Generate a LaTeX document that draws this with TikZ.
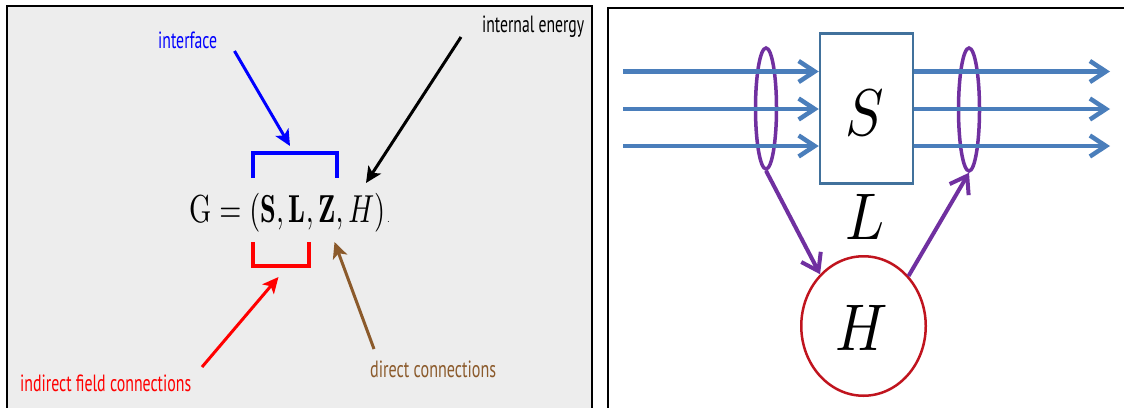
\documentclass[tikz,border=0pt]{standalone}
\usepackage{fontspec}
\usepackage{graphicx}
\usetikzlibrary{arrows.meta,shapes.geometric}
\newfontfamily\labfont{PT Sans}
\definecolor{panelgray}{HTML}{EDEDED}
\definecolor{ifblue}{HTML}{0000FF}
\definecolor{ifred}{HTML}{FF0000}
\definecolor{ifbrown}{HTML}{8B5A2B}
\definecolor{flowblue}{HTML}{4A7EBB}
\definecolor{boxblue}{HTML}{41719C}
\definecolor{bundlepurple}{HTML}{7030A0}
\definecolor{energyred}{HTML}{C0141E}
\newcommand{\cond}[2]{\resizebox{#1}{\height}{#2}}
\newcommand{\bigsym}[1]{\scalebox{5.742}[6.6]{\normalsize$#1$}}
\begin{document}
\begin{tikzpicture}[x=1pt,y=-1pt,
  lab/.style={inner sep=0pt, anchor=base west, font={\labfont\fontsize{23.5}{25}\selectfont}},
  ptr/.style={line width=3pt, -{Stealth[length=16pt,width=15pt,inset=4pt]}},
  brk/.style={line width=4.5pt},
  frame/.style={line width=2pt, black},
  flow/.style={flowblue, line width=4.5pt, -{Straight Barb[length=16pt,width=21pt]}},
  bundle/.style={ellipse, draw=bundlepurple, line width=3.5pt, inner sep=0pt, minimum width=21pt},
  parrow/.style={bundlepurple, line width=4pt, -{Straight Barb[length=16pt,width=22pt]}},
  sym/.style={inner sep=0pt, anchor=base}]
\useasboundingbox (0,0) rectangle (1124,407);
\fill[white] (0,0) rectangle (1124,407);
% ---------- left panel ----------
\fill[panelgray] (7,6) rectangle (591.7,410);
\draw[frame] (7,410) -- (7,6) -- (591.7,6) -- (591.7,410);
\node[lab, text=ifblue] (intf) at (158,48) {\cond{59pt}{interface}};
\node[lab] (ien) at (482,32) {\cond{102pt}{internal energy}};
\node[lab, text=ifred] (ifc) at (20,391) {\cond{171pt}{indirect field connections}};
\node[lab, text=ifbrown] (dc) at (370,377) {\cond{126pt}{direct connections}};
\node[inner sep=0pt, anchor=base west] (form) at (189,222)
  {\resizebox{196pt}{29.25pt}{\normalsize$\mathrm{G}=(\mathbf{S},\mathbf{L},\mathbf{Z},H)$}};
\node[inner sep=0pt, anchor=base west, font=\fontsize{10}{12}\selectfont] (dot) at (387,222) {.};
\draw[brk, ifblue] (253,178) -- (253,153) -- (337,153) -- (337,178);
\draw[brk, ifred] (253,242) -- (253,266) -- (309,266) -- (309,242);
\coordinate (bS) at (234.5,51);  \coordinate (bE) at (290,146);
\coordinate (kS) at (461,37);    \coordinate (kE) at (366,183);
\coordinate (rS) at (202,367);   \coordinate (rE) at (278.5,277);
\coordinate (nS) at (374,349);   \coordinate (nE) at (334.5,242);
\draw[ptr, ifblue] (bS) -- (bE);
\draw[ptr, black] (kS) -- (kE);
\draw[ptr, ifred] (rS) -- (rE);
\draw[ptr, ifbrown] (nS) -- (nE);
% ---------- right panel ----------
\draw[frame] (607.7,410) -- (607.7,7.5) -- (1126,7.5);
\node[bundle, minimum height=121pt] (ell1) at (766,108.5) {};
\node[bundle, minimum height=123pt] (ell2) at (969,109.5) {};
\node[draw=boxblue, line width=2.5pt, minimum width=93pt, minimum height=150pt, inner sep=0pt] (sbox) at (866.5,108.5) {};
\coordinate (in1) at (623,71.5);  \coordinate (out1) at (1110,71.5);
\coordinate (in2) at (623,109);   \coordinate (out2) at (1110,109);
\coordinate (in3) at (623,146);   \coordinate (out3) at (1110,146);
\foreach \k in {1,2,3}{
  \draw[flow] (in\k) -- (in\k -| sbox.west);
  \draw[flow] (sbox.east |- out\k) -- (out\k);
}
\node[sym] (stext) at (865,135) {\bigsym{S}};
\node[sym] (ltext) at (865,239) {\bigsym{L}};
\node[ellipse, draw=energyred, line width=2.5pt, minimum width=124.5pt, minimum height=139.5pt, inner sep=0pt] (hcirc) at (863.5,326) {};
\node[sym] (htext) at (862,350) {\bigsym{H}};
\draw[parrow] (ell1.south) -- (hcirc.130);
\draw[parrow] (hcirc.48) -- (ell2.south);
\end{tikzpicture}
\end{document}
